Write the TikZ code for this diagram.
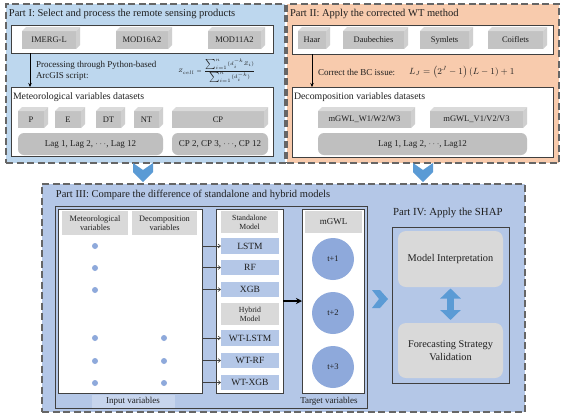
\documentclass[tikz,border=0pt]{standalone}
\usepackage{fontspec}
\setmainfont{Liberation Serif}
\usetikzlibrary{arrows.meta}
\definecolor{pIfill}{HTML}{BDD7EE}
\definecolor{pIIfill}{HTML}{F8CBAD}
\definecolor{pIIIfill}{HTML}{B4C7E7}
\definecolor{dashcol}{HTML}{666666}
\definecolor{framecol}{HTML}{404040}
\definecolor{cubefr}{HTML}{C3C3C3}
\definecolor{cubetp}{HTML}{DADADA}
\definecolor{cuberg}{HTML}{CFCFCF}
\definecolor{lggray}{HTML}{BFBFBF}
\definecolor{hdgray}{HTML}{D9D9D9}
\definecolor{chev}{HTML}{5B9BD5}
\definecolor{dotcol}{HTML}{8EA9DB}
\definecolor{modcol}{HTML}{B4C7E7}
\definecolor{txt}{HTML}{1F1F1F}
\newcommand{\rbox}[7][]{\node[#1, minimum width={(#5-#3)*1pt}, minimum height={(#6-#4)*1pt}] (#2) at ({(#3+#5)/2},{(#4+#6)/2}) {#7};}
\newcommand{\cubeit}[6]{%
  \rbox[cubefront]{#1}{#2}{#3}{#4}{#5}{#6}
  \fill[cubetp] (#1.north west) -- ++(4,-4) -- ([shift={(4,-4)}]#1.north east) -- (#1.north east) -- cycle;
  \fill[cuberg] (#1.north east) -- ++(4,-4) -- ([shift={(4,-4)}]#1.south east) -- (#1.south east) -- cycle;
}
\begin{document}
\begin{tikzpicture}[x=1pt,y=-1pt,
  every node/.style={inner sep=0pt, outer sep=0pt, text=txt},
  dashbox/.style={draw=dashcol, line width=1.3pt, dash pattern=on 7pt off 3.5pt},
  frame/.style={draw=framecol, line width=0.6pt},
  whitebox/.style={frame, fill=white},
  cubefront/.style={fill=cubefr, font=\fontsize{8.5}{9}\selectfont},
  lagbox/.style={fill=lggray, rounded corners=6pt, font=\fontsize{9}{10}\selectfont},
  title/.style={anchor=west, font=\fontsize{10.5}{12}\selectfont},
  sub/.style={anchor=west, font=\fontsize{9.8}{11}\selectfont},
  note/.style={anchor=west, align=left, font=\fontsize{9}{10.5}\selectfont},
  header/.style={fill=hdgray, align=center, font=\fontsize{8.3}{9}\selectfont},
  model/.style={fill=modcol, font=\fontsize{9.5}{10}\selectfont},
  dot/.style={circle, fill=dotcol, minimum size=6pt},
  tcirc/.style={circle, fill=dotcol, minimum size=42pt, font=\fontsize{8.5}{10}\selectfont},
  shapbox/.style={fill=hdgray, rounded corners=8pt, align=center, font=\fontsize{10.3}{13}\selectfont},
  thinarrow/.style={draw=framecol, line width=0.6pt, -{Straight Barb[length=2.5pt,width=4pt]}},
  flowarrow/.style={draw=black, line width=0.6pt, -{Stealth[length=4pt,width=3.5pt]}},
  chevron/.style={fill=chev}
]
\useasboundingbox (0,0) rectangle (566,416);
\fill[white] (0,0) rectangle (566,416);

% ---------------- Part I ----------------
\rbox[dashbox, fill=pIfill]{partI}{6}{4}{285}{163}{}
\node[title] (tI) at (9,14) {Part I: Select and process the remote sensing products};
\rbox[whitebox]{srcI}{11}{25}{273}{53}{}
\cubeit{imerg}{22}{31}{76}{49}{IMERG-L}
\cubeit{mod16}{116}{31}{168}{49}{MOD16A2}
\cubeit{mod11}{208}{31}{261}{49}{MOD11A2}
\rbox[whitebox]{metI}{11}{87}{273}{156}{}
\draw[flowarrow] ([xshift=19pt]srcI.south west) -- ([xshift=19pt]metI.north west);
\node[note] (procI) at (36,71) {Processing through Python-based\\ArcGIS script:};
\node[anchor=west, font=\fontsize{5}{6}\selectfont] (idw) at (178,71) {$\displaystyle Z_{cell}=\frac{\sum_{i=1}^{n}(d_i^{-k}Z_i)}{\sum_{i=1}^{n}(d_i^{-k})}$};
\node[sub] (metlbl) at (13,97) {Meteorological variables datasets};
\cubeit{vP}{18}{111}{44}{128}{P}
\cubeit{vE}{55}{111}{81}{128}{E}
\cubeit{vDT}{96}{111}{121}{128}{DT}
\cubeit{vNT}{134}{111}{159}{128}{NT}
\cubeit{vCP}{172}{111}{264}{128}{CP}
\rbox[lagbox]{lagI}{18}{133}{163}{155}{Lag 1, Lag 2, $\cdots$, Lag 12}
\rbox[lagbox]{cpI}{172}{133}{268}{155}{CP 2, CP 3, $\cdots$, CP 12}

% ---------------- Part II ----------------
\rbox[dashbox, fill=pIIfill]{partII}{287}{4}{559}{163}{}
\node[title] (tII) at (290,14) {Part II: Apply the corrected WT method};
\rbox[whitebox]{srcII}{292}{25}{553}{54}{}
\cubeit{haar}{298}{31}{326}{49}{Haar}
\cubeit{daub}{343}{31}{404}{49}{Daubechies}
\cubeit{sym}{420}{31}{469}{49}{Symlets}
\cubeit{coif}{488}{31}{543}{49}{Coiflets}
\rbox[whitebox]{decII}{292}{87}{553}{157}{}
\draw[flowarrow] ([xshift=20pt]srcII.south west) -- ([xshift=20pt]decII.north west);
\node[note] (bc) at (318,72) {Correct the BC issue:};
\node[anchor=west, font=\fontsize{9}{10}\selectfont] (bcf) at (409,72) {$L_J=\left(2^J-1\right)\left(L-1\right)+1$};
\node[sub] (declbl) at (294,97) {Decomposition variables datasets};
\cubeit{mw}{318}{111}{411}{128}{mGWL\_W1/W2/W3}
\cubeit{mv}{430}{111}{523}{128}{mGWL\_V1/V2/V3}
\rbox[lagbox]{lagII}{318}{133}{527}{155}{Lag 1, Lag 2, $\cdots$, Lag12}

% ---------------- Part III ----------------
\rbox[dashbox, fill=pIIIfill]{partIII}{42}{184}{525}{412}{}
\node[title] (tIII) at (56,195) {Part III: Compare the difference of standalone and hybrid models};
\rbox[frame]{inIII}{55}{206}{367}{408}{}
\rbox[fill=pIIIfill!75!white]{inband}{92}{395}{175}{408}{}
\node[font=\fontsize{9}{10}\selectfont] (inlbl) at (133,401.5) {Input variables};
\node[font=\fontsize{9}{10}\selectfont] (tglbl) at (329,401.5) {Target variables};

\rbox[whitebox]{input}{58}{209}{202}{393}{}
\rbox[header]{hmet}{62}{211}{128}{235}{Meteorological\\variables}
\rbox[header]{hdec}{132}{211}{197}{235}{Decomposition\\variables}
\foreach \i/\y in {1/246,2/268,3/290,4/338,5/361,6/383}{
  \node[dot] (m\i) at (95,\y) {};
}
\foreach \i/\y in {4/338,5/361,6/383}{
  \node[dot] (d\i) at (164,\y) {};
}

\rbox[whitebox]{models}{216}{209}{283}{393}{}
\rbox[header, font=\fontsize{7.8}{9}\selectfont]{hsa}{221}{211}{278}{233}{Standalone\\Model}
\rbox[model]{lstm}{221}{238}{279}{254}{LSTM}
\rbox[model]{rf}{221}{260}{279}{275}{RF}
\rbox[model]{xgb}{221}{282}{279}{297}{XGB}
\rbox[header, font=\fontsize{7.8}{9}\selectfont]{hhy}{221}{303}{279}{325}{Hybrid\\Model}
\rbox[model]{wtlstm}{221}{330}{279}{346}{WT-LSTM}
\rbox[model]{wtrf}{221}{353}{279}{368}{WT-RF}
\rbox[model]{wtxgb}{221}{375}{279}{390}{WT-XGB}
\foreach \n in {lstm,rf,xgb,wtlstm,wtrf,wtxgb}{
  \draw[thinarrow] (input.east |- \n.west) -- (\n.west);
}

\rbox[whitebox]{target}{302}{209}{364}{393}{}
\rbox[header, font=\fontsize{9}{10}\selectfont]{hmg}{305}{211}{362}{233}{mGWL}
\node[tcirc] (t1) at (333,259) {t+1};
\node[tcirc] (t2) at (333,313) {t+2};
\node[tcirc] (t3) at (333,367) {t+3};
\draw[draw=black, line width=1.2pt, -{Stealth[length=6pt,width=6pt]}] (models.east |- 0,301) -- (target.west |- 0,301);

% ---------------- Part IV ----------------
\node[title, font=\fontsize{10.8}{12}\selectfont] (tIV) at (393,213) {Part IV: Apply the SHAP};
\rbox[frame]{shap}{392}{227}{509}{383}{}
\rbox[shapbox]{mi}{398}{231}{503}{287}{Model Interpretation}
\rbox[shapbox]{fsv}{398}{323}{503}{378}{Forecasting Strategy\\Validation}
\draw[draw=chev, line width=7pt, {Triangle[length=10pt,width=20pt]}-{Triangle[length=10pt,width=20pt]}, shorten <=1.5pt, shorten >=3pt] (mi.south) -- (fsv.north);

% ---------------- chevrons ----------------
\fill[chevron] (133,163) -- (143,170) -- (153,163) -- (153,172) -- (143,182) -- (133,172) -- cycle;
\fill[chevron] (413,163) -- (423,170) -- (433,163) -- (433,172) -- (423,182) -- (413,172) -- cycle;
\fill[chevron] (372,290) -- (380,290) -- (388,299) -- (380,308) -- (372,308) -- (379,299) -- cycle;
\end{tikzpicture}
\end{document}
